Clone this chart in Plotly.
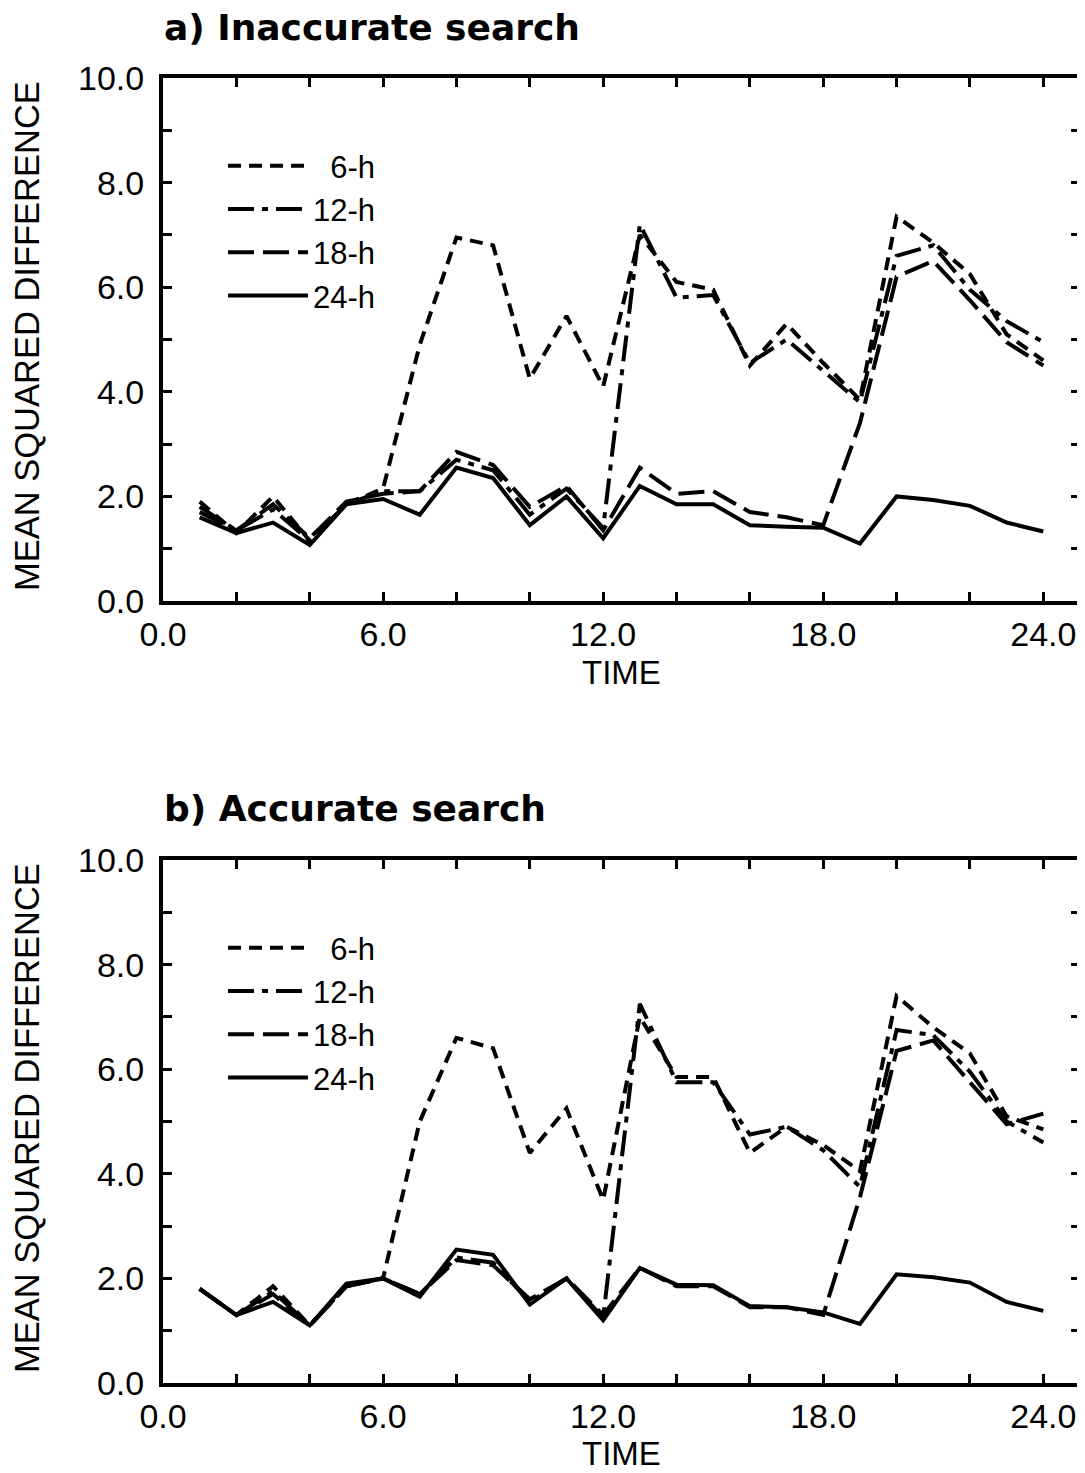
import plotly.graph_objects as go

# ---------------- data ----------------
time = list(range(1, 25))
series_names = ["\u20076-h", "12-h", "18-h", "24-h"]

# a) Inaccurate search
a_6h = [1.9, 1.3, 2.0, 1.15, 1.85, 2.15, 4.9, 6.95, 6.8, 4.25, 5.45, 4.1,
        7.0, 6.1, 5.95, 4.5, 5.3, 4.55, 3.85, 7.35, 6.85, 6.25, 5.1, 4.6]
a_12h = [1.8, 1.35, 1.75, 1.15, 1.85, 2.1, 2.1, 2.7, 2.5, 1.65, 2.15, 1.4,
         7.2, 5.8, 5.85, 4.55, 5.0, 4.4, 3.8, 6.6, 6.8, 5.95, 5.35, 4.95]
a_18h = [1.7, 1.35, 1.85, 1.2, 1.9, 2.05, 2.1, 2.85, 2.6, 1.8, 2.2, 1.35,
         2.55, 2.05, 2.1, 1.7, 1.6, 1.45, 3.4, 6.2, 6.5, 5.75, 4.95, 4.5]
a_24h = [1.6, 1.3, 1.5, 1.07, 1.85, 1.95, 1.65, 2.55, 2.35, 1.45, 2.0, 1.2,
         2.2, 1.85, 1.85, 1.45, 1.42, 1.4, 1.1, 2.0, 1.93, 1.82, 1.5, 1.33]

# b) Accurate search
b_6h = [1.8, 1.3, 1.85, 1.1, 1.85, 2.0, 5.0, 6.6, 6.4, 4.4, 5.25, 3.5,
        7.0, 5.85, 5.85, 4.4, 4.9, 4.55, 4.05, 7.4, 6.8, 6.3, 5.1, 4.85]
b_12h = [1.8, 1.3, 1.75, 1.1, 1.85, 2.0, 1.7, 2.4, 2.3, 1.55, 2.0, 1.25,
         7.25, 5.75, 5.75, 4.75, 4.9, 4.45, 3.75, 6.75, 6.65, 5.95, 5.0, 4.6]
b_18h = [1.8, 1.3, 1.7, 1.1, 1.85, 2.0, 1.7, 2.35, 2.25, 1.6, 2.0, 1.3,
         2.2, 1.85, 1.85, 1.45, 1.45, 1.3, 3.55, 6.35, 6.55, 5.75, 4.95, 5.15]
b_24h = [1.8, 1.3, 1.55, 1.1, 1.9, 2.0, 1.65, 2.55, 2.45, 1.5, 2.0, 1.2,
         2.2, 1.88, 1.87, 1.47, 1.45, 1.35, 1.13, 2.08, 2.02, 1.92, 1.55, 1.38]

x_tickvals = list(range(0, 25, 2))
x_ticktext = ["0.0", "", "", "6.0", "", "", "12.0", "", "", "18.0", "", "", "24.0"]
y_tickvals = list(range(0, 11))
y_ticktext = ["0.0", "", "2.0", "", "4.0", "", "6.0", "", "8.0", "", "10.0"]

panel_titles = ["a) Inaccurate search", "b) Accurate search"]
x_title = "TIME"
y_title = "MEAN SQUARED DIFFERENCE"

# ---------------- styles ----------------
FONT = "Liberation Sans, Arial, Helvetica, sans-serif"
TITLE_FONT = "DejaVu Sans, Liberation Sans, Arial, sans-serif"
dashes = ["13px,8px", "26px,8px,6px,8px", "26px,9px", "solid"]

# page body has an 8px margin; map reference pixel positions accordingly
OFF = 8
W, H = 1085 - OFF, 1473 - OFF
fig = go.Figure()

panels = [
    (a_6h, a_12h, a_18h, a_24h),
    (b_6h, b_12h, b_18h, b_24h),
]
for p, data in enumerate(panels):
    xa = "x" if p == 0 else "x2"
    ya = "y" if p == 0 else "y2"
    lg = "legend" if p == 0 else "legend2"
    for name, vals, dash in zip(series_names, data, dashes):
        fig.add_trace(go.Scatter(
            x=time, y=vals, mode="lines", name=name,
            line=dict(color="black", width=4, dash=dash),
            xaxis=xa, yaxis=ya, legend=lg, legendgroup=f"{p}{name}",
        ))

def px_x(px):
    return (px - OFF) / W

def px_y(py):
    return 1 - (py - OFF) / H

xdom = [px_x(163), px_x(1080)]
ydom_a = [px_y(601), px_y(78)]
ydom_b = [px_y(1383), px_y(860)]

def xaxis(dom, anchor):
    return dict(domain=dom, anchor=anchor, range=[0, 25],
                tickvals=x_tickvals, ticktext=x_ticktext,
                ticks="inside", ticklen=9, tickwidth=3, tickcolor="black",
                showline=True, linewidth=4, linecolor="black", mirror="ticks",
                showgrid=False, zeroline=False, automargin=False,
                tickfont=dict(family=FONT, size=34, color="black"))

def yaxis(dom, anchor):
    return dict(domain=dom, anchor=anchor, range=[0, 10],
                tickvals=y_tickvals, ticktext=y_ticktext,
                ticks="inside", ticklen=9, tickwidth=3, tickcolor="black",
                showline=True, linewidth=4, linecolor="black", mirror="ticks",
                showgrid=False, zeroline=False, automargin=False,
                ticklabelstandoff=8,
                tickfont=dict(family=FONT, size=34, color="black"))

legend_common = dict(
    font=dict(family=FONT, size=31, color="black"),
    bgcolor="rgba(0,0,0,0)", borderwidth=0,
    xanchor="left", yanchor="top",
    itemwidth=80, tracegroupgap=0, traceorder="grouped",
    itemclick=False, itemdoubleclick=False,
)

fig.update_layout(
    width=W, height=H,
    margin=dict(l=0, r=0, t=0, b=0),
    paper_bgcolor="white", plot_bgcolor="white",
    showlegend=True,
    xaxis=xaxis(xdom, "y"), yaxis=yaxis(ydom_a, "x"),
    xaxis2=xaxis(xdom, "y2"), yaxis2=yaxis(ydom_b, "x2"),
    legend=dict(x=px_x(223), y=px_y(139), **legend_common),
    legend2=dict(x=px_x(223), y=px_y(921), **legend_common),
)

annotations = []
for title, ty in zip(panel_titles, [28, 808]):
    annotations.append(dict(
        text=f"<b>{title}</b>", x=px_x(162), y=px_y(ty), xref="paper", yref="paper",
        xanchor="left", yanchor="middle", showarrow=False,
        font=dict(family=TITLE_FONT, size=36, color="black")))
for cy in [336, 1118]:
    annotations.append(dict(
        text=y_title, x=px_x(27), y=px_y(cy), xref="paper", yref="paper",
        xanchor="center", yanchor="middle", textangle=-90, showarrow=False,
        font=dict(family=FONT, size=34.5, color="black")))
for cy in [672, 1453]:
    annotations.append(dict(
        text=x_title, x=px_x(621), y=px_y(cy), xref="paper", yref="paper",
        xanchor="center", yanchor="middle", showarrow=False,
        font=dict(family=FONT, size=33, color="black")))
fig.update_layout(annotations=annotations)

fig.write_html("out.html")
